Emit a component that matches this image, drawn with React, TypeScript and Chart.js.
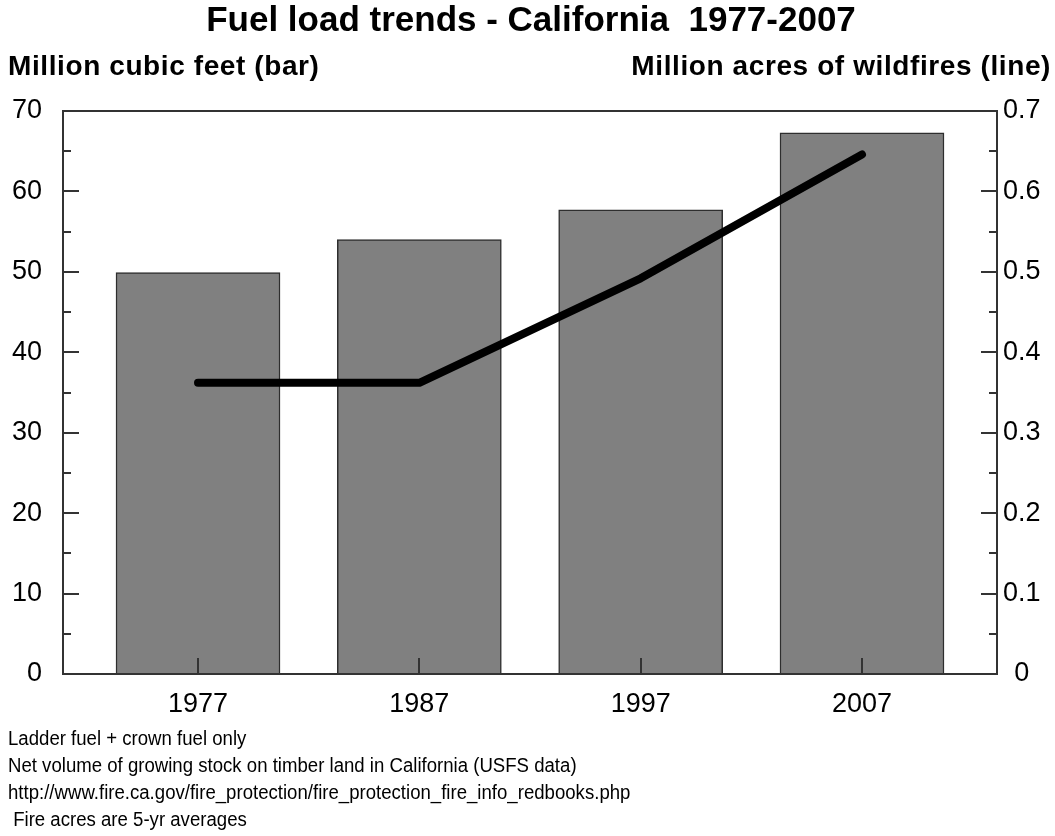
import React, { useEffect, useRef } from 'react';
import { Chart, registerables } from 'chart.js';

Chart.register(...registerables);

// ---- data ----
const YEARS = [1977, 1987, 1997, 2007];
const YEAR_LABELS = ['1977', '1987', '1997', '2007'];
const TIMBER_VOLUME = [49.9, 54.0, 57.7, 67.3]; // million cubic feet (bars)
const FIRE_ACRES = [0.362, 0.362, 0.492, 0.646]; // million acres (line)

const LEFT_TICKS = [0, 10, 20, 30, 40, 50, 60, 70];
const LEFT_TICK_LABELS = ['0', '10', '20', '30', '40', '50', '60', '70'];
const LEFT_MINOR_TICKS = [5, 15, 25, 35, 45, 55, 65];
const RIGHT_TICKS = [0, 0.1, 0.2, 0.3, 0.4, 0.5, 0.6, 0.7];
const RIGHT_TICK_LABELS = ['0', '0.1', '0.2', '0.3', '0.4', '0.5', '0.6', '0.7'];
const RIGHT_MINOR_TICKS = [0.05, 0.15, 0.25, 0.35, 0.45, 0.55, 0.65];

const TITLE = 'Fuel load trends - California  1977-2007';
const LEFT_AXIS_TITLE = 'Million cubic feet (bar)';
const RIGHT_AXIS_TITLE = 'Million acres of wildfires (line)';
const NOTES = [
  'Ladder fuel + crown fuel only',
  'Net volume of growing stock on timber land in California (USFS data)',
  'http://www.fire.ca.gov/fire_protection/fire_protection_fire_info_redbooks.php',
  ' Fire acres are 5-yr averages',
];

// ---- layout / style ----
const W = 1055;
const H = 836;
const FONT = '"Liberation Sans", Arial, Helvetica, sans-serif';
const X_MIN = 1970.9;
const X_MAX = 2013.1;
const FRAME = '#333333';

const framePlugin = {
  id: 'frameAndTicks',
  afterDatasetsDraw(chart: any) {
    const { ctx, chartArea: a, scales } = chart;
    ctx.save();
    ctx.strokeStyle = FRAME;
    ctx.lineWidth = 2;
    ctx.strokeRect(a.left, a.top, a.right - a.left, a.bottom - a.top);
    ctx.beginPath();
    LEFT_TICKS.forEach((v) => {
      const y = Math.round(scales.y.getPixelForValue(v));
      ctx.moveTo(a.left, y);
      ctx.lineTo(a.left + 16, y);
    });
    LEFT_MINOR_TICKS.forEach((v) => {
      const y = Math.round(scales.y.getPixelForValue(v));
      ctx.moveTo(a.left, y);
      ctx.lineTo(a.left + 8, y);
    });
    RIGHT_TICKS.forEach((v) => {
      const y = Math.round(scales.y2.getPixelForValue(v));
      ctx.moveTo(a.right, y);
      ctx.lineTo(a.right - 16, y);
    });
    RIGHT_MINOR_TICKS.forEach((v) => {
      const y = Math.round(scales.y2.getPixelForValue(v));
      ctx.moveTo(a.right, y);
      ctx.lineTo(a.right - 8, y);
    });
    YEARS.forEach((v) => {
      const x = Math.round(scales.x.getPixelForValue(v));
      ctx.moveTo(x, a.bottom);
      ctx.lineTo(x, a.bottom - 16);
    });
    ctx.stroke();
    ctx.restore();
  },
};

const textPlugin = {
  id: 'texts',
  afterDraw(chart: any) {
    const { ctx, chartArea: a } = chart;
    ctx.save();
    ctx.fillStyle = '#000';
    ctx.textBaseline = 'alphabetic';
    ctx.font = `bold 35px ${FONT}`;
    ctx.textAlign = 'center';
    ctx.fillText(TITLE, (a.left + a.right) / 2 + 1, 31);
    ctx.font = `bold 28px ${FONT}`;
    try { (ctx as any).letterSpacing = '0.6px'; } catch (e) {}
    ctx.textAlign = 'left';
    ctx.fillText(LEFT_AXIS_TITLE, 8, 75);
    ctx.textAlign = 'right';
    ctx.fillText(RIGHT_AXIS_TITLE, 1051, 75);
    try { (ctx as any).letterSpacing = '0px'; } catch (e) {}
    ctx.restore();

    // footnotes: slightly condensed like the original
    ctx.save();
    ctx.fillStyle = '#000';
    ctx.textBaseline = 'alphabetic';
    ctx.textAlign = 'left';
    ctx.font = `20px ${FONT}`;
    ctx.translate(8, 0);
    ctx.scale(0.93, 1);
    NOTES.forEach((t, i) => ctx.fillText(t, 0, 745 + i * 27));
    ctx.restore();
  },
};

export default function App() {
  const ref = useRef<HTMLCanvasElement | null>(null);

  useEffect(() => {
    if (!ref.current) return;
    Chart.defaults.font.family = FONT;
    const tickFont = { family: FONT, size: 27 };
    const chart = new Chart(ref.current, {
      type: 'bar',
      data: {
        datasets: [
          {
            type: 'line',
            label: 'Fire acres',
            data: YEARS.map((x, i) => ({ x, y: FIRE_ACRES[i] })),
            xAxisID: 'x',
            yAxisID: 'y2',
            borderColor: '#000',
            borderWidth: 8,
            borderCapStyle: 'round',
            borderJoinStyle: 'round',
            pointRadius: 0,
            tension: 0,
            fill: false,
            order: 0,
          } as any,
          {
            type: 'bar',
            label: 'Timber volume',
            data: YEARS.map((x, i) => ({ x, y: TIMBER_VOLUME[i] })),
            xAxisID: 'x',
            yAxisID: 'y',
            backgroundColor: '#808080',
            borderColor: '#2e2e2e',
            borderWidth: 1.5,
            barThickness: 164,
            order: 1,
          } as any,
        ],
      },
      options: {
        animation: false,
        responsive: false,
        maintainAspectRatio: false,
        layout: { padding: { top: 111, left: 0, right: 0, bottom: 0 } },
        plugins: {
          legend: { display: false },
          tooltip: { enabled: false },
          title: { display: false },
        },
        scales: {
          x: {
            type: 'linear',
            min: X_MIN,
            max: X_MAX,
            offset: false,
            grid: { display: false, drawTicks: false },
            border: { display: false },
            afterBuildTicks: (s: any) => {
              s.ticks = YEARS.map((v) => ({ value: v }));
            },
            afterFit: (s: any) => {
              s.height = H - 674;
            },
            ticks: {
              autoSkip: false,
              maxRotation: 0,
              minRotation: 0,
              padding: 14,
              color: '#000',
              font: tickFont,
              callback: (_v: any, i: number) => YEAR_LABELS[i],
            },
          },
          y: {
            type: 'linear',
            position: 'left',
            min: 0,
            max: 70,
            grid: { display: false, drawTicks: false },
            border: { display: false },
            afterBuildTicks: (s: any) => {
              s.ticks = LEFT_TICKS.map((v) => ({ value: v }));
            },
            afterFit: (s: any) => {
              s.width = 63;
            },
            ticks: {
              padding: 21,
              color: '#000',
              font: tickFont,
              callback: (_v: any, i: number) => LEFT_TICK_LABELS[i],
            },
          },
          y2: {
            type: 'linear',
            position: 'right',
            min: 0,
            max: 0.7,
            grid: { display: false, drawTicks: false },
            border: { display: false },
            afterBuildTicks: (s: any) => {
              s.ticks = RIGHT_TICKS.map((v) => ({ value: v }));
            },
            afterFit: (s: any) => {
              s.width = W - 997;
            },
            ticks: {
              padding: 6,
              crossAlign: 'center',
              color: '#000',
              font: tickFont,
              callback: (_v: any, i: number) => RIGHT_TICK_LABELS[i],
            },
          },
        },
      } as any,
      plugins: [framePlugin, textPlugin],
    });
    return () => chart.destroy();
  }, []);

  return (
    <div style={{ position: 'fixed', left: 0, top: 0, width: W, height: H, background: '#fff' }}>
      <canvas ref={ref} width={W} height={H} style={{ display: 'block', width: W, height: H }} />
    </div>
  );
}
